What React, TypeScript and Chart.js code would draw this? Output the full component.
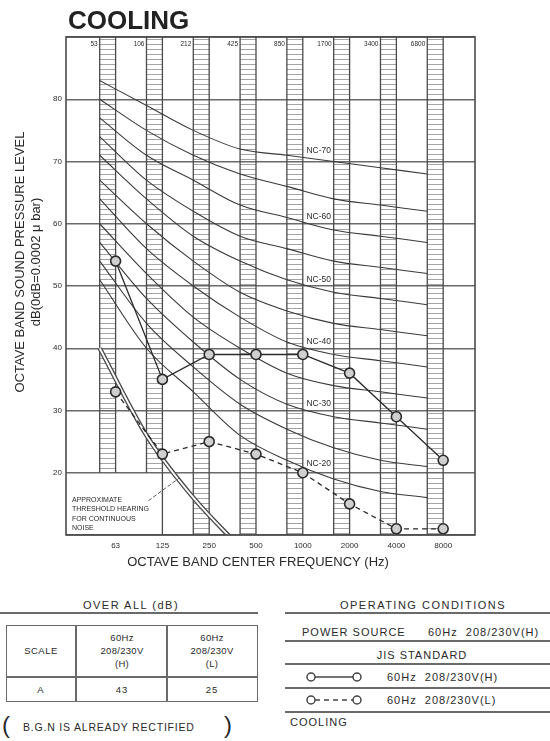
import React, { useEffect, useRef } from "react";
import { Chart, registerables } from "chart.js";

Chart.register(...registerables);

const FONT = "'Liberation Sans', Arial, sans-serif";
const INK = "#2a2a2a";

// ---- data ----
const FREQUENCIES = ["63", "125", "250", "500", "1000", "2000", "4000", "8000"];
const BAND_EDGES = ["53", "106", "212", "425", "850", "1700", "3400", "6800"];
const H_LEVELS = [54, 35, 39, 39, 39, 36, 29, 22];
const L_LEVELS = [33, 23, 25, 23, 20, 15, 11, 11];
const THRESHOLD = [40, 26, 16, 8];
const NC_20 = [51, 40, 33, 26, 22, 19, 17, 16];
const NC_25 = [54, 44, 37, 31, 27, 24, 22, 21];
const NC_30 = [57, 48, 41, 35, 31, 29, 28, 27];
const NC_35 = [60, 52, 45, 40, 36, 34, 33, 32];
const NC_40 = [64, 56, 50, 45, 41, 39, 38, 37];
const NC_45 = [67, 60, 54, 49, 46, 44, 43, 42];
const NC_50 = [71, 64, 58, 54, 51, 49, 48, 47];
const NC_55 = [74, 67, 62, 58, 56, 54, 53, 52];
const NC_60 = [77, 71, 67, 63, 61, 59, 58, 57];
const NC_65 = [80, 75, 71, 68, 66, 64, 63, 62];
const NC_70 = [83, 79, 75, 72, 71, 70, 69, 68];
const NC_CURVES: [string, number[]][] = [
  ["NC-70", NC_70], ["NC-65", NC_65], ["NC-60", NC_60], ["NC-55", NC_55],
  ["NC-50", NC_50], ["NC-45", NC_45], ["NC-40", NC_40], ["NC-35", NC_35],
  ["NC-30", NC_30], ["NC-25", NC_25], ["NC-20", NC_20],
];
const NC_LABELLED = ["NC-70", "NC-60", "NC-50", "NC-40", "NC-30", "NC-20"];
const Y_LABELS = [20, 30, 40, 50, 60, 70, 80];
const THRESHOLD_TEXT = ["APPROXIMATE", "THRESHOLD HEARING", "FOR CONTINUOUS", "NOISE"];

const OVERALL_HEAD_H = ["60Hz", "208/230V", "(H)"];
const OVERALL_HEAD_L = ["60Hz", "208/230V", "(L)"];
const OVERALL_ROW = ["A", "43", "25"];

// ---- layout constants ----
const COLUMN_WIDTH = 0.34; // hatched octave column width (band units)
const STRIPE_STEP = 0.8; // dB between hatch stripes
const X_MIN = -1.06;
const X_MAX = 7.68;
const Y_MIN = 10;
const Y_MAX = 90;
const NC_LABEL_AT = 4.34;

function curveAt(values: number[], pos: number) {
  const p = pos + COLUMN_WIDTH;
  const i = Math.max(0, Math.min(values.length - 2, Math.floor(p)));
  const f = p - i;
  return values[i] + (values[i + 1] - values[i]) * f;
}

const decorPlugin = {
  id: "decor",
  beforeDatasetsDraw(chart: any) {
    const { ctx, chartArea: a, scales } = chart;
    const x = scales.x;
    const y = scales.y;
    ctx.save();
    ctx.beginPath();
    ctx.rect(a.left, a.top, a.right - a.left, a.bottom - a.top);
    ctx.clip();
    FREQUENCIES.forEach((_, i) => {
      const xr = x.getPixelForValue(i);
      const xl = x.getPixelForValue(i - COLUMN_WIDTH);
      const stop = i < 2 ? 20 : Y_MIN;
      const yStop = y.getPixelForValue(stop);
      ctx.strokeStyle = "#a4a4a4";
      ctx.lineWidth = 1;
      ctx.beginPath();
      for (let v = Y_MAX - STRIPE_STEP / 2; v > stop + 0.1; v -= STRIPE_STEP) {
        const near = Math.abs(v - Math.round(v / 10) * 10);
        if (near < 0.3) continue;
        const yy = Math.round(y.getPixelForValue(v)) + 0.5;
        ctx.moveTo(xl, yy);
        ctx.lineTo(xr, yy);
      }
      ctx.stroke();
      ctx.strokeStyle = "#4a4a4a";
      ctx.lineWidth = 1.3;
      ctx.beginPath();
      ctx.moveTo(xl, a.top);
      ctx.lineTo(xl, yStop);
      ctx.moveTo(xr, a.top);
      ctx.lineTo(xr, i === 0 ? yStop : a.bottom);
      ctx.stroke();
    });
    ctx.restore();
  },
  afterDatasetsDraw(chart: any) {
    const { ctx, chartArea: a, scales } = chart;
    const x = scales.x;
    const y = scales.y;
    ctx.save();
    ctx.fillStyle = INK;
    // NC labels
    ctx.font = `8.5px ${FONT}`;
    ctx.textAlign = "center";
    ctx.textBaseline = "middle";
    NC_CURVES.forEach(([name, vals]) => {
      if (!NC_LABELLED.includes(name)) return;
      const px = x.getPixelForValue(NC_LABEL_AT);
      const py = y.getPixelForValue(curveAt(vals, NC_LABEL_AT)) - 9;
      ctx.fillText(name, px, py);
    });
    // band edge labels at top
    ctx.font = `6.5px ${FONT}`;
    ctx.textAlign = "right";
    BAND_EDGES.forEach((lab, i) => {
      ctx.fillText(lab, x.getPixelForValue(i - COLUMN_WIDTH) - 2, a.top + 7);
    });
    // threshold label
    ctx.font = `7px ${FONT}`;
    ctx.textAlign = "left";
    THRESHOLD_TEXT.forEach((t, k) => {
      ctx.fillText(t, a.left + 6, a.bottom - 35 + k * 9.5);
    });
    // leader line
    const thr: number[] = THRESHOLD;
    const lp = 1.35;
    const ti = Math.floor(lp + COLUMN_WIDTH);
    const tf = lp + COLUMN_WIDTH - ti;
    const tv = thr[ti] + (thr[ti + 1] - thr[ti]) * tf;
    ctx.strokeStyle = "#555";
    ctx.lineWidth = 1;
    ctx.setLineDash([4, 2]);
    ctx.beginPath();
    ctx.moveTo(x.getPixelForValue(0.7), y.getPixelForValue(15.5));
    ctx.lineTo(x.getPixelForValue(lp), y.getPixelForValue(tv));
    ctx.stroke();
    ctx.restore();
  },
  afterDraw(chart: any) {
    const { ctx, chartArea: a } = chart;
    ctx.save();
    ctx.strokeStyle = "#4a4a4a";
    ctx.lineWidth = 1.6;
    ctx.strokeRect(a.left, a.top, a.right - a.left, a.bottom - a.top);
    ctx.fillStyle = "#222";
    ctx.font = `bold 26px ${FONT}`;
    ctx.textAlign = "left";
    ctx.textBaseline = "alphabetic";
    ctx.fillText("COOLING", a.left + 2, 29);
    ctx.fillStyle = INK;
    ctx.font = `13px ${FONT}`;
    ctx.textAlign = "center";
    ctx.textBaseline = "middle";
    ctx.fillText("OCTAVE BAND CENTER FREQUENCY (Hz)", 258, 562);
    ctx.translate(20, 262);
    ctx.rotate(-Math.PI / 2);
    ctx.fillText("OCTAVE BAND SOUND PRESSURE LEVEL", 0, 0);
    ctx.fillText("dB(0dB=0.0002 \u03bc bar)", 0, 16);
    ctx.restore();
  },
};

const Txt = ({ x, y, children, align = "center", size = 11, ls = 1 }: any) => (
  <div
    style={{
      position: "absolute",
      left: x,
      top: y,
      transform: align === "center" ? "translate(-50%,-50%)" : "translate(0,-50%)",
      fontSize: size,
      letterSpacing: ls,
      whiteSpace: "nowrap",
      lineHeight: 1,
      color: INK,
      fontFamily: FONT,
    }}
  >
    {children}
  </div>
);

const HL = ({ x, y, w, h = 1.5 }: any) => (
  <div style={{ position: "absolute", left: x, top: y - h / 2, width: w, height: h, background: "#6a6a6a" }} />
);
const VL = ({ x, y, h, w = 1.5 }: any) => (
  <div style={{ position: "absolute", left: x - w / 2, top: y, width: w, height: h, background: "#6a6a6a" }} />
);

const LegendSymbol = ({ x, y, dashed }: any) => (
  <svg style={{ position: "absolute", left: x, top: y - 6 }} width={60} height={12}>
    <line x1={11} y1={6} x2={49} y2={6} stroke="#444" strokeWidth={1.5} strokeDasharray={dashed ? "5 4" : undefined} />
    <circle cx={7} cy={6} r={4} fill="#fff" stroke="#444" strokeWidth={1.5} />
    <circle cx={53} cy={6} r={4} fill="#fff" stroke="#444" strokeWidth={1.5} />
  </svg>
);

export default function App() {
  const ref = useRef<HTMLCanvasElement | null>(null);

  useEffect(() => {
    if (!ref.current) return;
    const ncSets = NC_CURVES.map(([name, vals]) => ({
      label: name,
      data: vals.map((v, i) => ({ x: i - COLUMN_WIDTH, y: v })),
      borderColor: "#3a3a3a",
      borderWidth: 1.1,
      pointRadius: 0,
      cubicInterpolationMode: "monotone",
    }));
    const thrData = THRESHOLD.map((v, i) => ({ x: i - COLUMN_WIDTH, y: v }));
    const pointStyle = {
      pointRadius: 5,
      pointBorderWidth: 1.6,
      pointBorderColor: "#2a2a2a",
      pointBackgroundColor: "#cfcfcf",
      borderColor: "#2a2a2a",
      borderWidth: 1.3,
      tension: 0,
    };
    const chart = new Chart(ref.current, {
      type: "line",
      data: {
        datasets: [
          { label: "H", data: H_LEVELS.map((v, i) => ({ x: i, y: v })), ...pointStyle },
          { label: "L", data: L_LEVELS.map((v, i) => ({ x: i, y: v })), borderDash: [5, 4], ...pointStyle },
          { label: "thr-in", data: thrData, borderColor: "#fff", borderWidth: 1.8, pointRadius: 0, cubicInterpolationMode: "monotone" },
          { label: "thr-out", data: thrData, borderColor: "#4a4a4a", borderWidth: 4.6, pointRadius: 0, cubicInterpolationMode: "monotone" },
          ...ncSets,
        ] as any,
      },
      options: {
        animation: false,
        responsive: false,
        layout: { padding: { left: 0, right: 75, top: 37, bottom: 0 } },
        plugins: { legend: { display: false }, tooltip: { enabled: false }, title: { display: false } },
        scales: {
          x: {
            type: "linear",
            min: X_MIN,
            max: X_MAX,
            afterBuildTicks: (s: any) => {
              s.ticks = FREQUENCIES.map((_, i) => ({ value: i }));
            },
            afterFit: (s: any) => {
              s.height = 45;
            },
            grid: { display: false, drawTicks: false },
            border: { display: false },
            ticks: {
              padding: 6,
              color: INK,
              font: { family: FONT, size: 8 },
              maxRotation: 0,
              autoSkip: false,
              callback: (v: any) => FREQUENCIES[v] ?? "",
            },
          },
          y: {
            min: Y_MIN,
            max: Y_MAX,
            afterFit: (s: any) => {
              s.width = 66;
            },
            grid: { color: "#6a6a6a", lineWidth: 1.4, drawTicks: false },
            border: { display: false },
            ticks: {
              stepSize: 10,
              padding: 4,
              color: INK,
              font: { family: FONT, size: 8 },
              callback: (v: any) => (Y_LABELS.includes(v) ? String(v) : ""),
            },
          },
        },
      } as any,
      plugins: [decorPlugin],
    });
    return () => chart.destroy();
  }, []);

  return (
    <div style={{ position: "absolute", left: 0, top: 0, width: 550, height: 741, background: "#fff", overflow: "hidden", fontFamily: FONT }}>
      <canvas ref={ref} width={550} height={580} style={{ position: "absolute", left: 0, top: 0, width: 550, height: 580 }} />

      {/* OVER ALL table */}
      <Txt x={131} y={605} ls={1.5}>OVER ALL (dB)</Txt>
      <HL x={0} y={613} w={258} h={2} />
      <div style={{ position: "absolute", left: 6, top: 625, width: 252, height: 77, border: "1.5px solid #6a6a6a", boxSizing: "border-box" }} />
      <VL x={76} y={625} h={77} />
      <VL x={167} y={625} h={77} />
      <HL x={6} y={677} w={252} />
      <Txt x={41} y={651} size={9.5} ls={0.5}>SCALE</Txt>
      {OVERALL_HEAD_H.map((t, k) => (
        <Txt key={"h" + k} x={122} y={638 + k * 13} size={9.5} ls={0.3}>{t}</Txt>
      ))}
      {OVERALL_HEAD_L.map((t, k) => (
        <Txt key={"l" + k} x={212} y={638 + k * 13} size={9.5} ls={0.3}>{t}</Txt>
      ))}
      {OVERALL_ROW.map((t, k) => (
        <Txt key={"r" + k} x={[41, 122, 212][k]} y={690} size={9.5}>{t}</Txt>
      ))}
      <Txt x={6} y={725} size={24} ls={0}>(</Txt>
      <Txt x={23} y={727} align="left" size={10.5} ls={0.8}>B.G.N IS ALREADY RECTIFIED</Txt>
      <Txt x={228} y={725} size={24} ls={0}>)</Txt>

      {/* OPERATING CONDITIONS */}
      <Txt x={423} y={605} ls={1.5}>OPERATING CONDITIONS</Txt>
      <HL x={285} y={613} w={265} h={2} />
      <Txt x={302} y={632} align="left">POWER SOURCE</Txt>
      <Txt x={428} y={632} align="left">60Hz&nbsp;&nbsp;208/230V(H)</Txt>
      <HL x={285} y={641} w={265} h={2} />
      <Txt x={422} y={655}>JIS STANDARD</Txt>
      <HL x={285} y={664} w={265} />
      <LegendSymbol x={304} y={677} />
      <Txt x={387} y={677} align="left">60Hz&nbsp;&nbsp;208/230V(H)</Txt>
      <HL x={285} y={688} w={265} />
      <LegendSymbol x={304} y={700} dashed />
      <Txt x={387} y={700} align="left">60Hz&nbsp;&nbsp;208/230V(L)</Txt>
      <HL x={285} y={712} w={265} />
      <Txt x={290} y={722} align="left">COOLING</Txt>
    </div>
  );
}
